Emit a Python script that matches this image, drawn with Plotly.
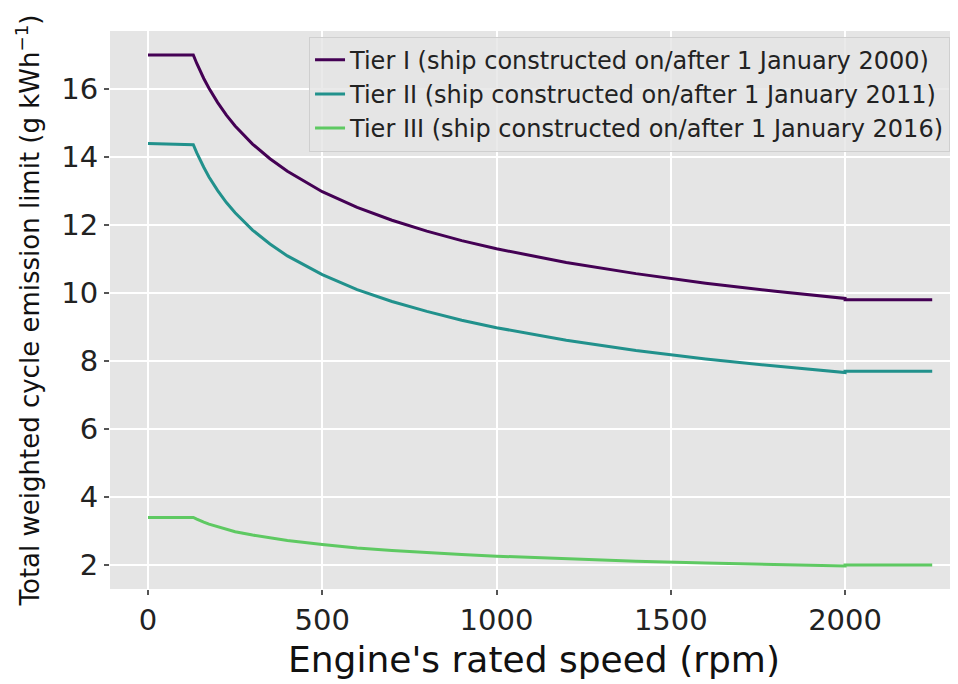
import plotly.graph_objects as go

speed = [0, 130, 140, 150, 160, 175, 200, 225, 250, 300, 350, 400, 500, 600,
         700, 800, 900, 1000, 1200, 1400, 1600, 1800, 2000, 2000, 2250]
tier1 = [17.0, 17.0, 16.75, 16.52, 16.31, 16.02, 15.60, 15.23, 14.91, 14.38,
         13.95, 13.58, 12.98, 12.52, 12.14, 11.82, 11.54, 11.30, 10.90, 10.57,
         10.29, 10.05, 9.84, 9.8, 9.8]
tier2 = [14.4, 14.36, 14.12, 13.90, 13.70, 13.41, 13.01, 12.66, 12.36, 11.85,
         11.44, 11.09, 10.54, 10.10, 9.75, 9.46, 9.20, 8.98, 8.61, 8.31,
         8.06, 7.85, 7.66, 7.7, 7.7]
tier3 = [3.4, 3.40, 3.35, 3.30, 3.26, 3.20, 3.12, 3.05, 2.98, 2.88,
         2.79, 2.72, 2.60, 2.50, 2.43, 2.36, 2.31, 2.26, 2.18, 2.11,
         2.06, 2.01, 1.97, 2.0, 2.0]
names = ["Tier I (ship constructed on/after 1 January 2000)",
         "Tier II (ship constructed on/after 1 January 2011)",
         "Tier III (ship constructed on/after 1 January 2016)"]
colors = ["#440154", "#21918c", "#5ec962"]
x_ticks = [0, 500, 1000, 1500, 2000]
y_ticks = [2, 4, 6, 8, 10, 12, 14, 16]

fig = go.Figure()
for vals, name, col in zip([tier1, tier2, tier3], names, colors):
    fig.add_trace(go.Scatter(x=speed, y=vals, mode="lines", name=name,
                             line=dict(color=col, width=3)))

font = "DejaVu Sans"
fig.update_layout(
    width=950, height=676,
    margin=dict(l=102, r=0, t=23, b=95),
    paper_bgcolor="white", plot_bgcolor="#E5E5E5",
    font=dict(family=font, color="#222222"),
    legend=dict(x=0.9906, y=0.99, xanchor="right", yanchor="top",
                bgcolor="rgba(229,229,229,0.8)", bordercolor="#cfcfcf",
                borderwidth=1, font=dict(size=24, family=font, color="#222222")),
    showlegend=True,
)
fig.update_xaxes(range=[-109, 2324], tickvals=x_ticks, showgrid=True,
                 gridcolor="white", gridwidth=1.6, zeroline=False,
                 ticks="outside", ticklen=5, tickwidth=1.5, tickcolor="#555555",
                 tickfont=dict(size=29, family=font, color="#222222"),
                 title=dict(text="Engine's rated speed (rpm)",
                            font=dict(size=36, family=font, color="#111111"),
                            standoff=11))
fig.update_yaxes(range=[1.294, 17.706], tickvals=y_ticks, showgrid=True,
                 gridcolor="white", gridwidth=1.6, zeroline=False,
                 ticks="outside", ticklen=5, tickwidth=1.5, tickcolor="#555555",
                 tickfont=dict(size=29, family=font, color="#222222"),
                 title=dict(text="Total weighted cycle emission limit (g kWh<sup>\u22121</sup>)",
                            font=dict(size=26, family=font, color="#111111"),
                            standoff=14))
fig.write_html("out.html")
